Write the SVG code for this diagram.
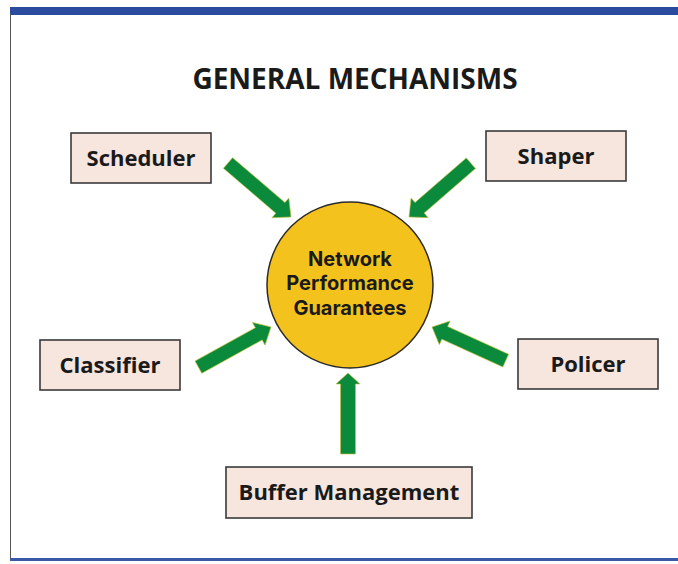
<svg xmlns="http://www.w3.org/2000/svg" width="678" height="564" viewBox="0 0 678 564">
<defs>
<style>
.box{fill:#f7e6de;stroke:#3a3a3a;stroke-width:1.6}
.lbl{font-family:"Open Sans","Noto Sans","Liberation Sans",sans-serif;font-weight:bold;font-size:22px;fill:#1a1a1a;text-anchor:middle}
.ctr{font-family:Inter,"Open Sans","Liberation Sans",sans-serif;font-weight:bold;font-size:20px;fill:#1a1a1a;text-anchor:middle}
.arr{fill:#0b8a3c;stroke:#c9c23a;stroke-width:0.6}
</style>
</defs>
<rect x="0" y="0" width="678" height="564" fill="#ffffff"/>
<rect x="10" y="7" width="668" height="8" fill="#2b4b9e"/>
<line x1="10.5" y1="14" x2="10.5" y2="560" stroke="#555" stroke-width="1"/>
<rect x="10" y="558" width="668" height="3" fill="#3a5aa8"/>
<text x="355" y="89" text-anchor="middle" font-family="'Open Sans','Noto Sans','Liberation Sans',sans-serif" font-weight="bold" font-size="28" fill="#1a1a1a">GENERAL MECHANISMS</text>
<g id="connectors">
<path class="arr" transform="translate(291,217) rotate(40.6)" d="M0,0 L-14,-13 L-14,-7 L-83,-7 L-83,7 L-14,7 L-14,13 Z"/>
<path class="arr" transform="translate(409,217) rotate(139)" d="M0,0 L-14,-13 L-14,-7 L-82,-7 L-82,7 L-14,7 L-14,13 Z"/>
<path class="arr" transform="translate(271,327) rotate(-29)" d="M0,0 L-14,-13 L-14,-7 L-83,-7 L-83,7 L-14,7 L-14,13 Z"/>
<path class="arr" transform="translate(432,327) rotate(-155.5)" d="M0,0 L-14,-13 L-14,-7 L-81,-7 L-81,7 L-14,7 L-14,13 Z"/>
<path class="arr" transform="translate(348,373) rotate(-90)" d="M0,0 L-11,-12 L-11,-7.5 L-81,-7.5 L-81,7.5 L-11,7.5 L-11,12 Z"/>
</g>
<g id="center">
<circle cx="350" cy="285" r="83" fill="#f4c21c" stroke="#2a2a2a" stroke-width="1.5"/>
<text class="ctr" x="350" y="265.5">Network</text>
<text class="ctr" x="350" y="290">Performance</text>
<text class="ctr" x="350" y="314.5">Guarantees</text>
</g>
<g id="scheduler">
<rect class="box" x="71" y="133" width="140" height="50"/>
<text class="lbl" x="141" y="166">Scheduler</text>
</g>
<g id="shaper">
<rect class="box" x="486" y="131" width="140" height="50"/>
<text class="lbl" x="556" y="164">Shaper</text>
</g>
<g id="classifier">
<rect class="box" x="40" y="340" width="140" height="50"/>
<text class="lbl" x="110" y="373">Classifier</text>
</g>
<g id="policer">
<rect class="box" x="518" y="339" width="140" height="50"/>
<text class="lbl" x="588" y="372">Policer</text>
</g>
<g id="buffer">
<rect class="box" x="226" y="467" width="246" height="51"/>
<text class="lbl" x="349" y="500">Buffer Management</text>
</g>
</svg>
